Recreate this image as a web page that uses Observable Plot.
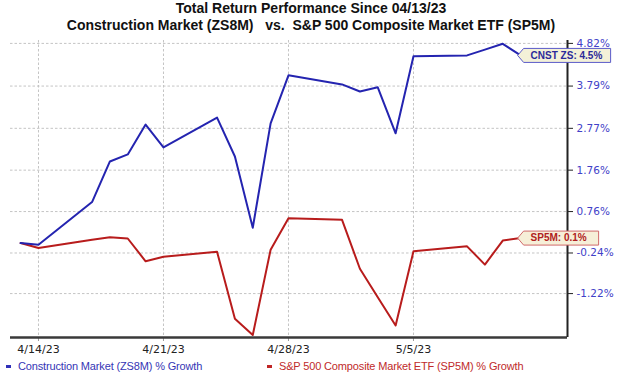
<!DOCTYPE html>
<html>
<head>
<meta charset="utf-8">
<script src="https://cdn.jsdelivr.net/npm/d3@7"></script>
<script src="https://cdn.jsdelivr.net/npm/@observablehq/plot@0.6"></script>
<style>
  html, body { margin: 0; padding: 0; background: #fff; }
  body { width: 620px; height: 377px; overflow: hidden; position: relative; font-family: "Liberation Sans", Arial, sans-serif; }
  #chart { position: absolute; left: 0; top: 0; }
  .title { position: absolute; left: 1px; width: 620px; text-align: center; font-weight: bold; font-size: 14px; line-height: 16px; color: #111; white-space: pre; }
  .legend { position: absolute; top: 360px; font-size: 11px; line-height: 13px; letter-spacing: -0.15px; white-space: pre; }
  .swatch { position: absolute; top: 365px; width: 5px; height: 2.5px; }
</style>
</head>
<body>
<div id="chart"></div>
<div class="title" style="top:0px">Total Return Performance Since 04/13/23</div>
<div class="title" style="top:17px">Construction Market (ZS8M)   vs.  S&amp;P 500 Composite Market ETF (SP5M)</div>
<div class="swatch" style="left:6px;background:#3030b8"></div>
<div class="legend" style="left:18px;color:#3535b5">Construction Market (ZS8M) % Growth</div>
<div class="swatch" style="left:267px;background:#c02525"></div>
<div class="legend" style="left:279px;color:#c02a2a">S&amp;P 500 Composite Market ETF (SP5M) % Growth</div>
<script>
// ---- data ----
const dates = [
  "2023-04-13","2023-04-14","2023-04-17","2023-04-18","2023-04-19","2023-04-20","2023-04-21",
  "2023-04-24","2023-04-25","2023-04-26","2023-04-27","2023-04-28",
  "2023-05-01","2023-05-02","2023-05-03","2023-05-04","2023-05-05",
  "2023-05-08","2023-05-09","2023-05-10","2023-05-11"
];
const construction = [0, -0.04, 0.99, 1.97, 2.14, 2.86, 2.31, 3.03, 2.09, 0.37, 2.89, 4.05,
  3.83, 3.66, 3.76, 2.65, 4.51, 4.53, 4.67, 4.81, 4.53];
const sp500 = [0, -0.12, 0.08, 0.14, 0.11, -0.44, -0.33, -0.21, -1.83, -2.22, -0.16, 0.60,
  0.56, -0.62, -1.31, -1.99, -0.20, -0.08, -0.52, 0.06, 0.12];
const xTicks = ["2023-04-14","2023-04-21","2023-04-28","2023-05-05"];
const yTicks = [-1.22, -0.24, 0.76, 1.76, 2.77, 3.79, 4.82];
const endLabels = ["CNST ZS: 4.5%", "SP5M: 0.1%"];
const xDomain = ["2023-04-12T10:24Z", "2023-05-13T15:00Z"];
const yDomain = [-2.28, 4.89];

// ---- build ----
const parse = d3.utcParse("%Y-%m-%d");
const cRows = dates.map((d, i) => ({date: parse(d), value: construction[i]}));
const sRows = dates.map((d, i) => ({date: parse(d), value: sp500[i]}));
const xT = xTicks.map(parse);
const xD = xDomain.map(d => new Date(d));
const fmtX = d3.utcFormat("%-m/%-d/%y");

const blue = "#2424b0";
const red = "#b81c1c";

function tag(w) {
  return {
    draw(ctx) {
      ctx.moveTo(-3, 0);
      ctx.lineTo(3, -7);
      ctx.lineTo(w, -7);
      ctx.lineTo(w, 7);
      ctx.lineTo(3, 7);
      ctx.closePath();
    }
  };
}
const cLast = [cRows[cRows.length - 1]];
const sLast = [sRows[sRows.length - 1]];

const grid = {stroke: "#c4c4c4", strokeOpacity: 1, strokeDasharray: "2.5,2", strokeWidth: 1};

const plot = Plot.plot({
  width: 620,
  height: 358,
  marginTop: 40,
  marginRight: 53,
  marginBottom: 21,
  marginLeft: 10,
  style: {fontFamily: "DejaVu Sans", fontSize: "11px", background: "transparent", overflow: "visible"},
  x: {type: "utc", domain: xD},
  y: {domain: yDomain},
  marks: [
    Plot.gridX(xT, grid),
    Plot.gridY(yTicks, grid),
    Plot.axisX(xT, {tickSize: 4, tickPadding: 4, tickFormat: fmtX, stroke: "#999", fill: "#222", fontSize: 11, label: null}),
    Plot.axisY(yTicks, {anchor: "right", tickSize: 5, tickPadding: 4, tickFormat: d => d.toFixed(2) + "%", stroke: "#222", fill: "#4141c8", fontSize: 10.5, label: null}),
    Plot.ruleY([yDomain[0]], {stroke: "#3a3a3a", strokeWidth: 2.5}),
    Plot.ruleX([xD[1]], {stroke: "#222", strokeWidth: 2}),
    Plot.line(sRows, {x: "date", y: "value", stroke: red, strokeWidth: 2}),
    Plot.line(cRows, {x: "date", y: "value", stroke: blue, strokeWidth: 2}),
    Plot.dot(cLast, {x: "date", y: "value", symbol: tag(90), r: 5, fill: "#f3f1d8", stroke: "#5a5ac8", strokeWidth: 1}),
    Plot.text(cLast, {x: "date", y: "value", text: () => endLabels[0], dx: 10, textAnchor: "start", fill: "#2b2b9a", fontWeight: "bold", fontSize: 10, fontFamily: "Liberation Sans"}),
    Plot.dot(sLast, {x: "date", y: "value", symbol: tag(78), r: 5, fill: "#f6efd8", stroke: "#d06a6a", strokeWidth: 1}),
    Plot.text(sLast, {x: "date", y: "value", text: () => endLabels[1], dx: 10, textAnchor: "start", fill: "#b02020", fontWeight: "bold", fontSize: 10, fontFamily: "Liberation Sans"})
  ]
});
document.getElementById("chart").appendChild(plot);
</script>
</body>
</html>
